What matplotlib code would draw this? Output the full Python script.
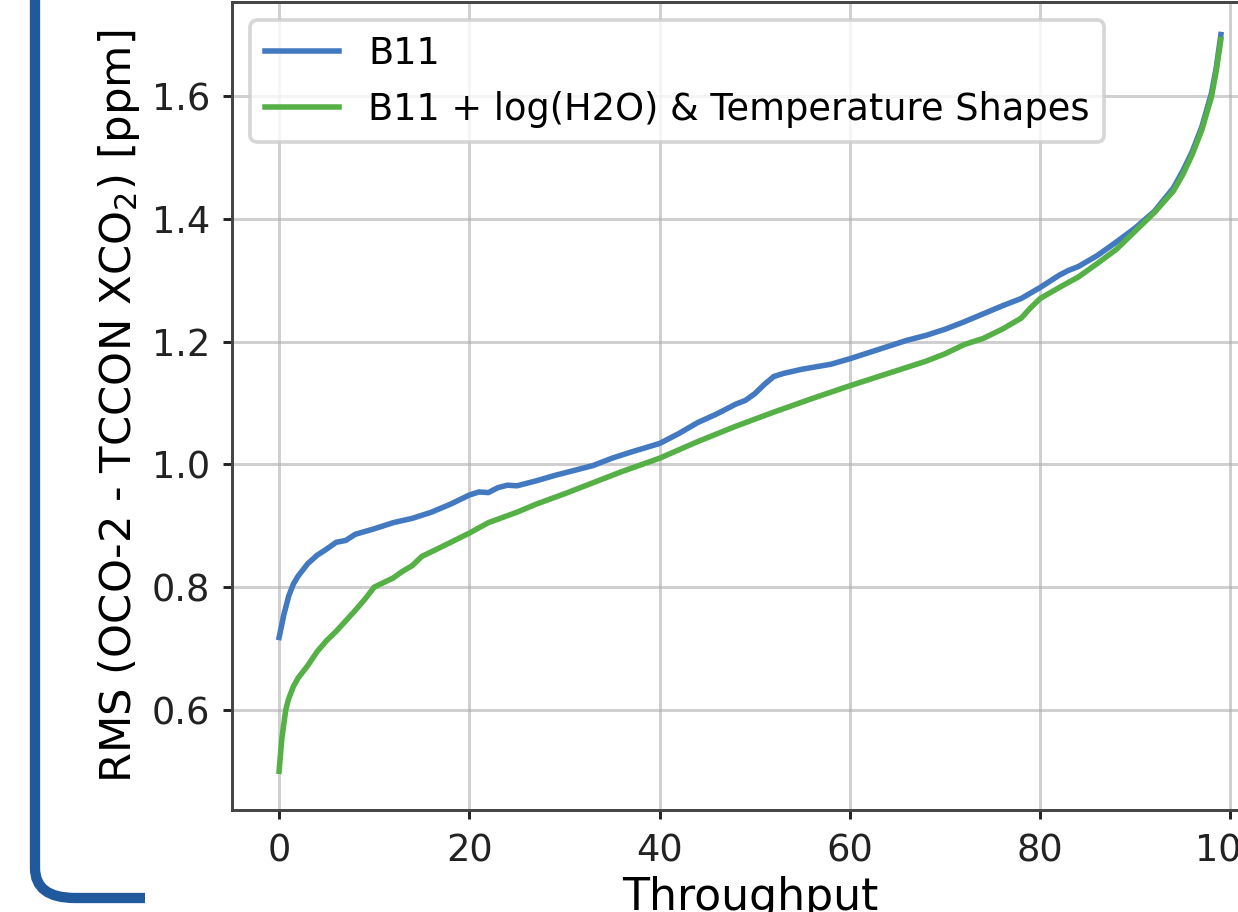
import matplotlib
matplotlib.use('Agg')
from matplotlib import pyplot as plt
from matplotlib.path import Path
from matplotlib.patches import PathPatch

# B11 curve
b11_x = [0, 0.5, 1, 1.5, 2, 3, 4, 5, 6, 7, 8, 10, 12, 14, 16, 18, 20, 21, 22, 23, 24, 25,
         27, 29, 31, 33, 35, 37, 40, 42, 44, 46, 48, 49, 50, 51, 52, 53, 55, 58, 60, 62,
         64, 66, 68, 70, 72, 74, 76, 78, 80, 82, 83, 84, 86, 88, 90, 92, 94, 95, 96, 97,
         98, 98.5, 99]
b11_y = [0.718, 0.755, 0.785, 0.805, 0.818, 0.838, 0.852, 0.862, 0.873, 0.876, 0.886,
         0.895, 0.905, 0.912, 0.922, 0.935, 0.950, 0.955, 0.954, 0.962, 0.966, 0.965,
         0.973, 0.982, 0.990, 0.998, 1.010, 1.020, 1.034, 1.050, 1.068, 1.082, 1.098,
         1.104, 1.115, 1.130, 1.143, 1.148, 1.155, 1.163, 1.172, 1.182, 1.192, 1.202,
         1.210, 1.220, 1.232, 1.245, 1.258, 1.270, 1.288, 1.308, 1.316, 1.322, 1.340,
         1.362, 1.385, 1.412, 1.450, 1.478, 1.510, 1.550, 1.604, 1.645, 1.700]

# B11 + log(H2O) & Temperature Shapes
shp_x = [0, 0.3, 0.7, 1, 1.5, 2, 3, 4, 5, 6, 7, 8, 9, 10, 12, 13, 14, 15, 17, 20, 22, 25,
         27, 30, 33, 36, 40, 44, 48, 52, 56, 60, 64, 68, 70, 72, 74, 76, 78, 79, 80, 82,
         84, 86, 88, 90, 92, 94, 95, 96, 97, 98, 98.5, 99]
shp_y = [0.500, 0.555, 0.600, 0.618, 0.638, 0.652, 0.672, 0.695, 0.713, 0.728, 0.745,
         0.762, 0.780, 0.800, 0.815, 0.826, 0.835, 0.850, 0.865, 0.888, 0.905, 0.922,
         0.935, 0.952, 0.970, 0.988, 1.010, 1.037, 1.062, 1.085, 1.107, 1.128, 1.148,
         1.168, 1.180, 1.195, 1.205, 1.220, 1.238, 1.255, 1.270, 1.288, 1.305, 1.327,
         1.350, 1.380, 1.410, 1.445, 1.472, 1.505, 1.545, 1.598, 1.640, 1.692]

W, H, DPI = 1238, 912, 265


def px(x, y):
    # pixel (from top-left) -> figure fraction
    return x / W, 1 - y / H


fig = plt.figure(figsize=(W / DPI, H / DPI), dpi=DPI)
l, t = px(232, 2)
r, b = px(1268, 810)
ax = fig.add_axes([l, b, r - l, t - b])

ax.plot(b11_x, b11_y, color='#4279c0', lw=1.5, label='B11')
ax.plot(shp_x, shp_y, color='#55b046', lw=1.5,
        label='B11 + log(H2O) & Temperature Shapes')

ax.set_xlim(-4.95, 103.95)
ax.set_ylim(0.437, 1.753)
ax.set_xticks([0, 20, 40, 60, 80, 100])
ax.set_yticks([0.6, 0.8, 1.0, 1.2, 1.4, 1.6])
ax.grid(True, alpha=0.6)
for s in ax.spines.values():
    s.set_color('#444444')
ax.tick_params(colors='#222222', length=2.5)
ax.set_xlabel('Throughput', fontsize=12, labelpad=2)
ax.set_ylabel('RMS (OCO-2 - TCCON XCO$_2$) [ppm]', fontsize=11.8, labelpad=2.5)
ax.legend(loc='upper left', fontsize=10)

# dark blue bracket on the left side
pts = [px(35, -20), px(35, 868), px(35, 898), px(75, 898), px(145, 898)]
codes = [Path.MOVETO, Path.LINETO, Path.CURVE3, Path.CURVE3, Path.LINETO]
fig.patches.append(PathPatch(Path(pts, codes), transform=fig.transFigure,
                             fill=False, edgecolor='#215a9c', lw=2.8,
                             capstyle='butt', joinstyle='round'))

fig.savefig('out.png', dpi=DPI)
